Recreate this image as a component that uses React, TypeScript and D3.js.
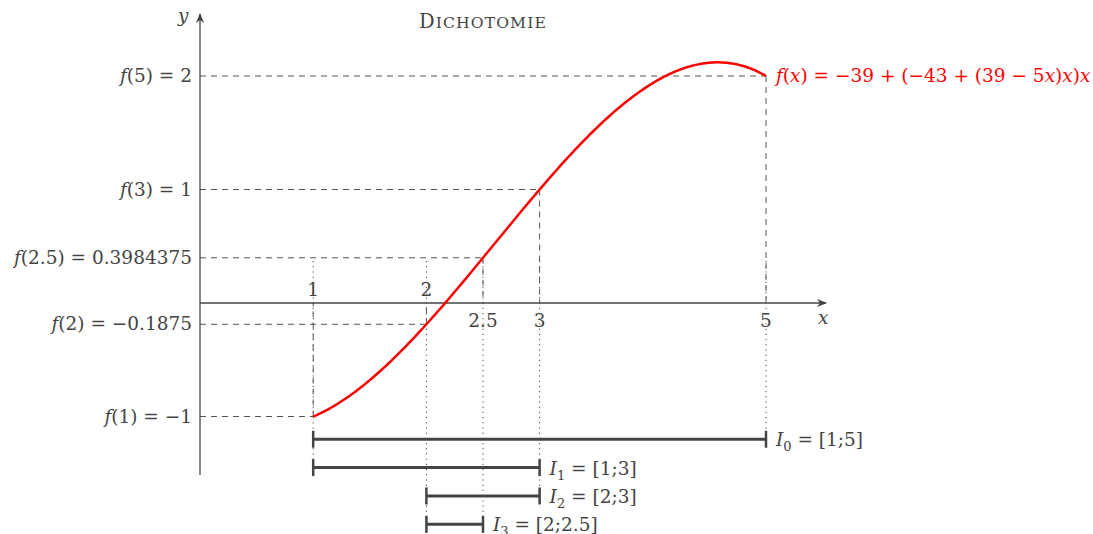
import React from "react";
import * as d3 from "d3";

// f(x) = (-39 + (-43 + (39 - 5x)x)x) / 48, Horner coefficients from the constant term
const COEFFS = [-39, -43, 39, -5];
const SCALE = 48;

// Evaluated points shown on the axes
const POINT_X = [1, 2, 2.5, 3, 5];
const POINT_Y = [-1, -0.1875, 0.3984375, 1, 2];
const POINT_Y_LABELS = ["f(1) = −1", "f(2) = −0.1875", "f(2.5) = 0.3984375", "f(3) = 1", "f(5) = 2"];
const TICK_LABELS = ["1", "2", "2.5", "3", "5"];

// Successive bisection intervals
const INTERVAL_A = [1, 1, 2, 2];
const INTERVAL_B = [5, 3, 3, 2.5];
const INTERVAL_A_TEXT = ["1", "1", "2", "2"];
const INTERVAL_B_TEXT = ["5", "3", "3", "2.5"];
const INTERVAL_LEVEL = [-1.2, -1.45, -1.7, -1.95];

const W = 1093;
const H = 534;
const INK = "#444";
const FONT = "'DejaVu Serif', serif";

const f = (x: number) => {
  let v = 0;
  for (let i = COEFFS.length - 1; i >= 0; i--) v = v * x + COEFFS[i];
  return v / SCALE;
};

export default function App() {
  const xs = d3.scaleLinear().domain([0, 5]).range([200, 766]);
  const ys = d3.scaleLinear().domain([0, 2]).range([303, 76]);

  const samples = d3.range(0, 201).map((i) => 1 + (4 * i) / 200);
  const curve = d3
    .line<number>()
    .x((d) => xs(d))
    .y((d) => ys(f(d)))
    .curve(d3.curveLinear)(samples);

  const fs = 18.5;

  // y-axis label with italic f
  const yLabel = (s: string) => {
    const rest = s.slice(1);
    return (
      <>
        <tspan fontStyle="italic">f</tspan>
        <tspan>{rest}</tspan>
      </>
    );
  };

  // deepest interval row reached by each endpoint
  const dottedBottom = (v: number) => {
    let lvl = 0;
    INTERVAL_A.forEach((a, i) => {
      if (a === v || INTERVAL_B[i] === v) lvl = Math.min(lvl, INTERVAL_LEVEL[i]);
    });
    return ys(lvl) + 9;
  };

  return (
    <svg
      width={W}
      height={H}
      style={{ position: "absolute", left: 0, top: 0, background: "#fff" }}
      fontFamily={FONT}
    >
      <defs>
        <marker id="arr" viewBox="0 0 10 10" refX="9" refY="5" markerWidth="10" markerHeight="10" markerUnits="userSpaceOnUse" orient="auto">
          <path d="M0,1 L10,5 L0,9 L3,5 Z" fill={INK} />
        </marker>
      </defs>

      {/* title in small capitals */}
      <text x={483} y={28} textAnchor="middle" fill={INK} fontSize={19.5} letterSpacing={1.1}>
        <tspan>D</tspan>
        <tspan fontSize={15.6}>ICHOTOMIE</tspan>
      </text>

      {/* dotted guides from above the axis down to the intervals */}
      {POINT_X.map((v, i) => (
        <line
          key={"dot" + i}
          x1={xs(v)}
          x2={xs(v)}
          y1={ys(0.37)}
          y2={dottedBottom(v)}
          stroke={INK}
          strokeWidth={1}
          strokeDasharray="1.2,4"
        />
      ))}

      {/* dashed projections of each point onto both axes */}
      {POINT_X.map((v, i) => (
        <g key={"dash" + i} stroke="#555" strokeWidth={1} strokeDasharray="6,5" fill="none">
          <line x1={xs(0)} x2={xs(v)} y1={ys(POINT_Y[i])} y2={ys(POINT_Y[i])} />
          <line x1={xs(v)} x2={xs(v)} y1={ys(POINT_Y[i])} y2={ys(0)} />
        </g>
      ))}

      {/* axes */}
      <line x1={xs(0)} x2={826} y1={ys(0)} y2={ys(0)} stroke={INK} strokeWidth={1.3} markerEnd="url(#arr)" />
      <line x1={xs(0)} x2={xs(0)} y1={475} y2={14} stroke={INK} strokeWidth={1.3} markerEnd="url(#arr)" />
      <text x={818} y={324} fill={INK} fontSize={fs} fontStyle="italic">x</text>
      <text x={178} y={22} fill={INK} fontSize={fs} fontStyle="italic">y</text>

      {/* curve */}
      <path d={curve ?? ""} fill="none" stroke="#f00" strokeWidth={2.5} />
      <text x={776} y={82} fill="#f00" fontSize={fs}>
        <tspan fontStyle="italic">f</tspan>
        <tspan>(</tspan>
        <tspan fontStyle="italic">x</tspan>
        <tspan>) = −39 + (−43 + (39 − 5</tspan>
        <tspan fontStyle="italic">x</tspan>
        <tspan>)</tspan>
        <tspan fontStyle="italic">x</tspan>
        <tspan>)</tspan>
        <tspan fontStyle="italic">x</tspan>
      </text>

      {/* y labels */}
      {POINT_Y.map((v, i) => (
        <text key={"yl" + i} x={192} y={ys(v) + 6} textAnchor="end" fill={INK} fontSize={fs}>
          {yLabel(POINT_Y_LABELS[i])}
        </text>
      ))}

      {/* x tick labels: above the axis when f < 0, below otherwise */}
      {POINT_X.map((v, i) => (
        <text
          key={"xl" + i}
          x={xs(v)}
          y={POINT_Y[i] < 0 ? ys(0) - 7 : ys(0) + 24}
          textAnchor="middle"
          fill={INK}
          fontSize={fs}
        >
          {TICK_LABELS[i]}
        </text>
      ))}

      {/* intervals */}
      {INTERVAL_A.map((a, i) => {
        const y = ys(INTERVAL_LEVEL[i]);
        const x1 = xs(a);
        const x2 = xs(INTERVAL_B[i]);
        return (
          <g key={"iv" + i}>
            <line x1={x1} x2={x2} y1={y} y2={y} stroke={INK} strokeWidth={3} />
            <line x1={x1} x2={x1} y1={y - 8.5} y2={y + 8.5} stroke={INK} strokeWidth={2.5} />
            <line x1={x2} x2={x2} y1={y - 8.5} y2={y + 8.5} stroke={INK} strokeWidth={2.5} />
            <text x={x2 + 10} y={y + 7} fill={INK} fontSize={fs}>
              <tspan fontStyle="italic">I</tspan>
              <tspan fontSize={13} dy={5}>{i}</tspan>
              <tspan dy={-5}>{` = [${INTERVAL_A_TEXT[i]};${INTERVAL_B_TEXT[i]}]`}</tspan>
            </text>
          </g>
        );
      })}
    </svg>
  );
}
